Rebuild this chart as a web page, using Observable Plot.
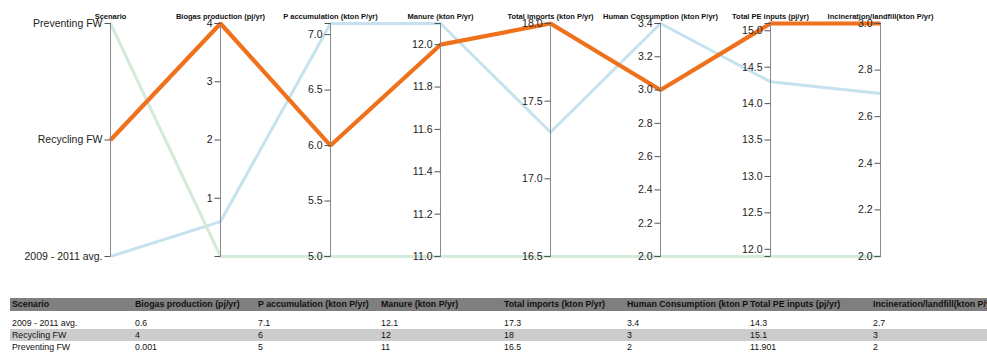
<!DOCTYPE html>
<html>
<head>
<meta charset="utf-8">
<script src="https://cdn.jsdelivr.net/npm/d3@7"></script>
<script src="https://cdn.jsdelivr.net/npm/@observablehq/plot@0.6"></script>
<style>
  html, body { margin: 0; padding: 0; background: #fff; overflow: hidden; }
  body { font-family: "Liberation Sans", Arial, Helvetica, sans-serif; width: 987px; height: 352px; position: relative; }
  #chart svg { display: block; }
  #tbl { position: absolute; left: 10px; top: 298px; border-collapse: collapse; table-layout: fixed; width: 984px; }
  #tbl th, #tbl td { width: 119px; padding: 0 2px; text-align: left; white-space: nowrap; overflow: hidden; color: #111; }
  #tbl th { background: #7f7f7f; font-weight: bold; font-size: 8.8px; height: 13px; line-height: 13px; }
  #tbl td { font-size: 8.8px; height: 12px; line-height: 12px; }
  #tbl tbody tr:first-child td { height: 12px; padding-top: 6px; }
  #tbl tbody tr:nth-child(2) td { background: #cccccc; }
</style>
</head>
<body>
<div id="chart"></div>
<table id="tbl"></table>
<script>
// ---- data ----
const dims = [
  "Scenario",
  "Biogas production (pj/yr)",
  "P accumulation (kton P/yr)",
  "Manure (kton P/yr)",
  "Total imports (kton P/yr)",
  "Human Consumption (kton P/yr)",
  "Total PE inputs (pj/yr)",
  "Incineration/landfill(kton P/yr)"
];
const scenarios = ["2009 - 2011 avg.", "Recycling FW", "Preventing FW"];
const biogas = [0.6, 4, 0.001];
const pAccumulation = [7.1, 6, 5];
const manure = [12.1, 12, 11];
const totalImports = [17.3, 18, 16.5];
const humanConsumption = [3.4, 3, 2];
const totalPE = [14.3, 15.1, 11.901];
const incineration = [2.7, 3, 2];

// tick values shown on each numeric axis
const biogasTicks = [1, 2, 3, 4];
const pAccumulationTicks = [5.0, 5.5, 6.0, 6.5, 7.0];
const manureTicks = [11.0, 11.2, 11.4, 11.6, 11.8, 12.0];
const totalImportsTicks = [16.5, 17.0, 17.5, 18.0];
const humanConsumptionTicks = [2.0, 2.2, 2.4, 2.6, 2.8, 3.0, 3.2, 3.4];
const totalPETicks = [12.0, 12.5, 13.0, 13.5, 14.0, 14.5, 15.0];
const incinerationTicks = [2.0, 2.2, 2.4, 2.6, 2.8, 3.0];
const tickDecimals = [0, 1, 1, 1, 1, 1, 1];

const colors = ["#c6e2ef", "#f0711c", "#d3ebd8"];
const widths = [3, 4.2, 3];

const numeric = [biogas, pAccumulation, manure, totalImports, humanConsumption, totalPE, incineration];
const numericTicks = [biogasTicks, pAccumulationTicks, manureTicks, totalImportsTicks, humanConsumptionTicks, totalPETicks, incinerationTicks];

// per-axis normalisation to [0,1]
const scenScale = d3.scalePoint().domain(scenarios).range([0, 1]);
const scales = numeric.map(v => d3.scaleLinear().domain(d3.extent(v)).range([0, 1]));

const long = [];
scenarios.forEach((s, i) => {
  long.push({scenario: s, dim: dims[0], v: scenScale(s)});
  numeric.forEach((vals, j) => long.push({scenario: s, dim: dims[j + 1], v: scales[j](vals[i])}));
});

const ticks = [];
scenarios.forEach(s => ticks.push({dim: dims[0], v: scenScale(s), label: s}));
scales.forEach((sc, j) => {
  numericTicks[j].forEach(t => ticks.push({dim: dims[j + 1], v: sc(t), label: t.toFixed(tickDecimals[j])}));
});
const outer = [];
dims.slice(1).forEach(d => { outer.push({dim: d, v: 0}); outer.push({dim: d, v: 1}); });

const tickSymbol = { draw(ctx) { ctx.moveTo(-6, 0); ctx.lineTo(0, 0); } };

const order = [0, 2, 1];
const lineMarks = order.map(i => Plot.line(long.filter(d => d.scenario === scenarios[i]), {
  x: "dim", y: "v", stroke: colors[i], strokeWidth: widths[i],
  strokeLinejoin: "miter", strokeLinecap: "butt"
}));

const plot = Plot.plot({
  width: 987,
  height: 270,
  marginLeft: 110,
  marginRight: 107,
  marginTop: 23,
  marginBottom: 14,
  style: {fontFamily: "'Liberation Sans', Arial, Helvetica, sans-serif", background: "#fff"},
  x: {type: "point", domain: dims, padding: 0, axis: null},
  y: {domain: [0, 1], axis: null},
  marks: [
    ...lineMarks,
    Plot.ruleX(dims, {x: d => d, y1: 0, y2: 1, stroke: "#8a8a8a", strokeWidth: 1}),
    Plot.dot(ticks, {x: "dim", y: "v", symbol: tickSymbol, stroke: "#555", fill: "none", strokeWidth: 1}),
    Plot.dot(outer, {x: "dim", y: "v", symbol: tickSymbol, stroke: "#555", fill: "none", strokeWidth: 1}),
    Plot.text(ticks, {x: "dim", y: "v", text: "label", textAnchor: "end", dx: -8, fontSize: 10.5, fill: "#222"}),
    Plot.text(dims, {x: d => d, y: () => 1, text: d => d, dy: -7, fontSize: 7.5, fontWeight: "bold", fill: "#111"})
  ]
});
document.getElementById("chart").appendChild(plot);

// ---- table ----
const columns = [scenarios, ...numeric];
const tbl = d3.select("#tbl");
tbl.append("thead").append("tr").selectAll("th").data(dims).join("th").text(d => d);
const rows = tbl.append("tbody").selectAll("tr").data(scenarios.map((s, i) => i)).join("tr");
rows.selectAll("td").data(i => columns.map(c => c[i])).join("td").text(d => String(d));
</script>
</body>
</html>
